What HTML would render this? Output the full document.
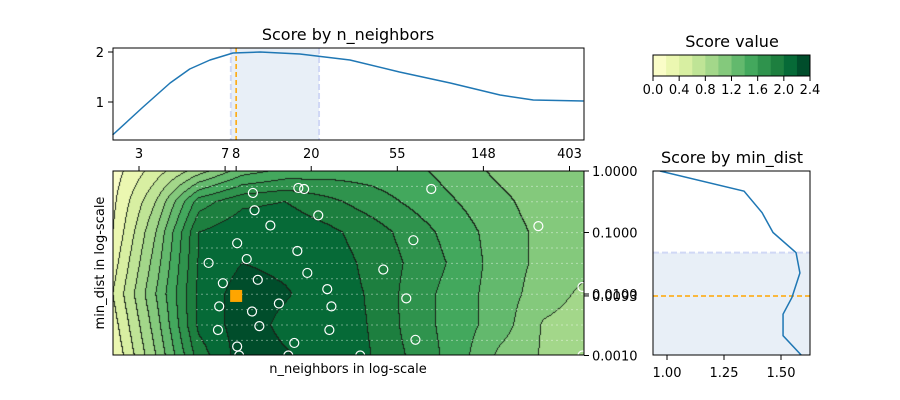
<!DOCTYPE html>
<html><head><meta charset="utf-8">
<style>
html,body{margin:0;padding:0;background:#fff;}
#wrap{position:relative;width:900px;height:400px;overflow:hidden;font-family:"Liberation Sans","DejaVu Sans",sans-serif;}
canvas{position:absolute;left:113px;top:171px;}
svg{position:absolute;left:0;top:0;}
text{font-family:"DejaVu Sans","Liberation Sans",sans-serif;fill:#000;}
</style></head>
<body>
<div id="wrap">
<canvas id="cv" width="471" height="184"></canvas>
<svg id="sv" width="900" height="400"></svg>
</div>
<script>
// ---- data ----
const topN = [2.0,2.85,3.9,4.9,6.2,8.1,11.1,17.6,31.5,56,101,180,265,474];
const topScore = [0.34,0.9,1.38,1.66,1.84,1.98,2.0,1.96,1.84,1.6,1.38,1.14,1.04,1.02];
const mdVals = [1.0,0.47,0.21,0.1,0.047,0.022,0.0088,0.0047,0.0021,0.00095];
const mdScore = [0.969,1.338,1.417,1.465,1.566,1.583,1.548,1.509,1.509,1.596];
const gridLnN = [0.7,1.2,1.7,2.2,2.7,3.2,3.7,4.2,4.7,5.2,5.7,6.2];
const gridLogMd = [0,-0.5,-1,-1.5,-2,-2.5,-3];
const gridScore = [
 [0.1,0.5,0.9,1.3,1.45,1.5,1.5,1.45,1.3,1.15,1.05,1.05],
 [0.15,0.8,1.7,1.95,2.0,1.85,1.7,1.55,1.4,1.25,1.1,1.05],
 [0.2,1.0,2.0,2.15,2.15,2.05,1.9,1.7,1.5,1.3,1.15,1.1],
 [0.3,1.1,2.02,2.2,2.15,2.1,1.95,1.75,1.55,1.3,1.15,1.05],
 [0.4,1.2,2.05,2.3,2.22,2.1,1.98,1.7,1.5,1.3,1.1,0.95],
 [0.3,1.1,2.05,2.3,2.15,2.1,1.99,1.7,1.5,1.3,0.98,0.9],
 [0.2,1.0,1.9,2.3,2.22,2.1,2.0,1.75,1.5,1.15,0.98,0.95]
];
const ptN = [10.2,17.3,18.5,81,10.4,21.8,12.5,281,8.5,65.8,17.1,9.5,6.1,19.2,46.4,10.8,7.2,24.2,469,60.6,13.8,25.4,6.9,10.1,11.0,6.8,24.8,67.4,16.5,8.5,8.7,15.4,35.5,469];
const ptMd = [0.44,0.53,0.51,0.51,0.23,0.19,0.13,0.127,0.067,0.075,0.050,0.037,0.032,0.022,0.025,0.017,0.015,0.012,0.013,0.0085,0.0070,0.0063,0.0063,0.0052,0.0030,0.0026,0.0026,0.0018,0.0016,0.0014,0.001,0.001,0.001,0.001];
const bestN = 8.4, bestMd = 0.0093;
const nRange = [7.9,22]; const mdRange = [0.001,0.047];
const nTickVals = [2.718,7.389,8.4,20.09,54.6,148.4,403.4];
const nTickLabels = ["3","7","8","20","55","148","403"];
const mdTickVals = [1,0.1,0.01,0.0093,0.001];
const mdTickLabels = ["1.0000","0.1000","0.0100","0.0093","0.0010"];
const cbTicks = [0,0.4,0.8,1.2,1.6,2.0,2.4];
const levels = [0,0.2,0.4,0.6,0.8,1.0,1.2,1.4,1.6,1.8,2.0,2.2,2.4];
const bandColors = ["#fafdc8","#ebf7b1","#d8efa2","#bfe496","#a3d78a","#84c97c","#63b96d","#43a85d","#2f934d","#1d7f3f","#066a37","#004d2b"];

// ---- scales ----
const xN = n => 139 + (Math.log(n)-1)*86.1;
const yMd = m => 171 - Math.log10(m)*61.5;
const yTop = s => 52 + (2-s)*50;
const xR = s => 667 + (s-1)*228;
const xCb = v => 653 + v/2.4*157;

const NS="http://www.w3.org/2000/svg", sv=document.getElementById('sv');
function el(tag, attrs, parent){const e=document.createElementNS(NS,tag);for(const k in attrs)e.setAttribute(k,attrs[k]);(parent||sv).appendChild(e);return e;}
function txt(x,y,s,size,anchor,parent){const t=el('text',{x:x,y:y,'font-size':size,'text-anchor':anchor||'middle'},parent);t.textContent=s;return t;}

// ---- contour fill ----
const cv=document.getElementById('cv'), ctx=cv.getContext('2d');
const W=471,H=184;
function interp(ln,lm){
  let i=Math.max(0,Math.min(gridLnN.length-2,Math.floor((ln-gridLnN[0])/0.5)));
  let fx=(ln-gridLnN[i])/(gridLnN[i+1]-gridLnN[i]); fx=Math.max(0,Math.min(1,fx));
  let j=Math.max(0,Math.min(gridLogMd.length-2,Math.floor((gridLogMd[0]-lm)/0.5)));
  let fy=(gridLogMd[j]-lm)/(gridLogMd[j]-gridLogMd[j+1]); fy=Math.max(0,Math.min(1,fy));
  const a=gridScore[j][i],b=gridScore[j][i+1],c=gridScore[j+1][i],d=gridScore[j+1][i+1];
  return a*(1-fx)*(1-fy)+b*fx*(1-fy)+c*(1-fx)*fy+d*fx*fy;
}
const band=new Int8Array(W*H);
for(let py=0;py<H;py++)for(let px=0;px<W;px++){
  const ln=1+(113+px+0.5-139)/86.1, lm=-(py+0.5)/61.5;
  let v=interp(ln,lm); let b=Math.floor(v/0.2); b=Math.max(0,Math.min(11,b)); band[py*W+px]=b;
}
const img=ctx.createImageData(W,H);
const rgb=bandColors.map(c=>[parseInt(c.substr(1,2),16),parseInt(c.substr(3,2),16),parseInt(c.substr(5,2),16)]);
for(let py=0;py<H;py++)for(let px=0;px<W;px++){
  const k=py*W+px,b=band[k];let c=rgb[b];
  const edge=(px<W-1&&band[k+1]!==b)||(py<H-1&&band[k+W]!==b);
  if(edge)c=[25,35,25];
  img.data[k*4]=c[0];img.data[k*4+1]=c[1];img.data[k*4+2]=c[2];img.data[k*4+3]=255;
}
ctx.putImageData(img,0,0);

// ---- main panel overlay ----
const gMain=el('g',{});


for(let k=1;k<12;k++){
  const y=171+k*15.4;
  const l=el('line',{x1:196,x2:584,y1:y,y2:y,stroke:'#fff','stroke-opacity':0.4,'stroke-width':1,'stroke-dasharray':'2 3'},gMain);
  
  
}
for(let i=0;i<ptN.length;i++){
  const c=el('circle',{cx:xN(ptN[i]),cy:yMd(ptMd[i]),r:4.5,fill:'none',stroke:'#fff','stroke-width':1.2},gMain);
  
  
}
const best=el('rect',{x:xN(bestN)-6,y:yMd(bestMd)-6,width:12,height:12,fill:'#ffa500'},gMain);


const mf=el('rect',{x:113,y:171,width:471,height:184,fill:'none',stroke:'#000','stroke-width':1},gMain);


for(let i=0;i<nTickVals.length;i++){
  const x=xN(nTickVals[i]);
  el('line',{x1:x,x2:x,y1:166,y2:171,stroke:'#000'},gMain);
  const t=txt(x,158,nTickLabels[i],13,'middle',gMain);
  
  
}
for(let i=0;i<mdTickVals.length;i++){
  const y=yMd(mdTickVals[i]);
  el('line',{x1:584,x2:589,y1:y,y2:y,stroke:'#000'},gMain);
  const t=txt(592,y+5,mdTickLabels[i],13,'start',gMain);
  
  
}
const xl=txt(348,373,'n_neighbors in log-scale',13,'middle');


const yl=txt(0,0,'min_dist in log-scale',13,'middle');
yl.setAttribute('transform','translate(104,263) rotate(-90)');



// ---- top panel ----
const gTop=el('g',{});


const sh=el('rect',{x:xN(nRange[0]),y:48,width:xN(nRange[1])-xN(nRange[0]),height:92,fill:'#e8eff7'},gTop);


[nRange[0],nRange[1]].forEach(v=>el('line',{x1:xN(v),x2:xN(v),y1:48,y2:140,stroke:'#d0d8f5','stroke-width':2,'stroke-dasharray':'6 3'},gTop));
const bl=el('line',{x1:xN(bestN),x2:xN(bestN),y1:48,y2:140,stroke:'#ffa500','stroke-width':1.5,'stroke-dasharray':'5 3'},gTop);


const tl=el('polyline',{points:topN.map((n,i)=>xN(n)+','+yTop(topScore[i])).join(' '),fill:'none',stroke:'#1f77b4','stroke-width':1.5,'stroke-linejoin':'round'},gTop);


el('rect',{x:113,y:48,width:471,height:92,fill:'none',stroke:'#000'},gTop);
[1,2].forEach(v=>{const y=yTop(v);el('line',{x1:108,x2:113,y1:y,y2:y,stroke:'#000'},gTop);const t=txt(104,y+5,String(v),13,'end',gTop);});
const tt=txt(348,40,'Score by n_neighbors',16,'middle');



// ---- right panel ----
const gR=el('g',{});


const rs=el('rect',{x:653,y:yMd(mdRange[1]),width:157,height:yMd(mdRange[0])-yMd(mdRange[1]),fill:'#e8eff7'},gR);


el('line',{x1:653,x2:810,y1:yMd(mdRange[1]),y2:yMd(mdRange[1]),stroke:'#d0d8f5','stroke-width':2,'stroke-dasharray':'6 3'},gR);
const rb=el('line',{x1:653,x2:810,y1:yMd(bestMd),y2:yMd(bestMd),stroke:'#ffa500','stroke-width':1.5,'stroke-dasharray':'5 3'},gR);


const cp=el('clipPath',{id:'rc'},gR);el('rect',{x:653,y:171,width:157,height:184},cp);
const rl=el('polyline',{points:mdVals.map((m,i)=>xR(mdScore[i])+','+yMd(m)).join(' '),fill:'none',stroke:'#1f77b4','stroke-width':1.5,'clip-path':'url(#rc)'},gR);


el('rect',{x:653,y:171,width:157,height:184,fill:'none',stroke:'#000'},gR);
[1.0,1.25,1.5].forEach(v=>{const x=xR(v);el('line',{x1:x,x2:x,y1:355,y2:360,stroke:'#000'},gR);const t=txt(x,377,v.toFixed(2),13,'middle',gR);});
const rt=txt(732,163,'Score by min_dist',16,'middle');



// ---- colorbar ----
const gC=el('g',{});


for(let i=0;i<bandColors.length;i++){
  const r=el('rect',{x:xCb(levels[i]),y:55,width:xCb(levels[i+1])-xCb(levels[i])+0.3,height:21,fill:bandColors[i]},gC);
  
  
}
el('rect',{x:653,y:55,width:157,height:21,fill:'none',stroke:'#000'},gC);
cbTicks.forEach(v=>{const x=xCb(v);el('line',{x1:x,x2:x,y1:76,y2:81,stroke:'#000'},gC);const t=txt(x,94,v.toFixed(1),13,'middle',gC);});
const ct=txt(732,47,'Score value',16,'middle');


</script>
</body></html>
